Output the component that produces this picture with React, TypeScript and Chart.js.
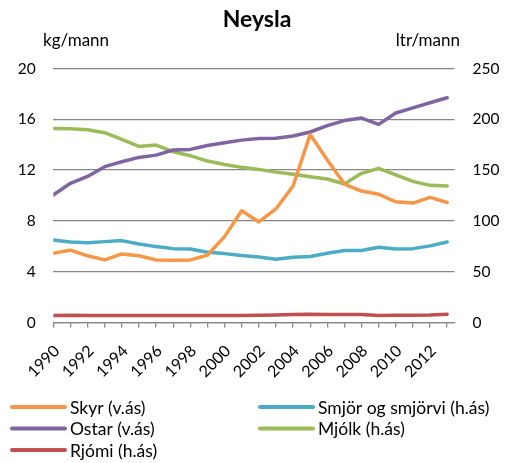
import { useEffect, useRef } from "react";
import { Chart, registerables } from "chart.js";

Chart.register(...registerables);

const years = [1990, 1991, 1992, 1993, 1994, 1995, 1996, 1997, 1998, 1999, 2000, 2001, 2002, 2003, 2004, 2005, 2006, 2007, 2008, 2009, 2010, 2011, 2012, 2013];

// left axis (kg/mann)
const skyr = [5.45, 5.7, 5.25, 4.93, 5.4, 5.25, 4.93, 4.9, 4.93, 5.3, 6.76, 8.8, 7.92, 8.94, 10.75, 14.8, 12.8, 10.9, 10.35, 10.1, 9.5, 9.4, 9.85, 9.45];
const ostar = [10.04, 10.96, 11.5, 12.27, 12.66, 13.0, 13.18, 13.58, 13.63, 13.94, 14.15, 14.36, 14.48, 14.5, 14.68, 15.0, 15.5, 15.9, 16.1, 15.6, 16.5, 16.9, 17.3, 17.7];
// right axis (ltr/mann)
const smjor = [81.3, 79.3, 78.6, 79.6, 80.6, 77.3, 74.7, 72.7, 72.4, 69.1, 67.8, 65.9, 64.4, 62.3, 64.2, 64.9, 68.2, 70.8, 70.8, 74.0, 72.4, 72.7, 75.4, 79.3];
const mjolk = [191, 190.7, 189.7, 186.8, 180.2, 173.3, 174.6, 168.1, 164.2, 158.9, 155.6, 152.7, 150.7, 148, 146, 143.5, 141.2, 136.3, 146.8, 151.7, 145.2, 138.9, 135, 134.3];
const rjomi = [7, 7.2, 7, 7, 7, 7, 7, 7, 7, 7, 7, 7, 7.2, 7.5, 7.8, 8, 7.8, 7.8, 7.8, 7, 7.2, 7.2, 7.5, 8.2];

const seriesNames = ["Skyr (v.ás)", "Smjör og smjörvi (h.ás)", "Ostar (v.ás)", "Mjólk (h.ás)", "Rjómi (h.ás)"];
const seriesColors = ["#F79646", "#4BACC6", "#8064A2", "#9BBB59", "#C0504D"];

const leftTitle = "kg/mann";
const rightTitle = "ltr/mann";
const chartTitle = "Neysla";

const FONT = "Lato";
const GRID = "#868686";

const toPts = (vals: number[]) => vals.map((v, i) => ({ x: years[i], y: v }));

const extrasPlugin = {
  id: "extras",
  afterDraw(chart: any) {
    const ctx = chart.ctx as CanvasRenderingContext2D;
    ctx.save();
    ctx.fillStyle = "#000";
    ctx.font = `17px ${FONT}`;
    ctx.textBaseline = "middle";
    ctx.textAlign = "left";
    ctx.fillText(leftTitle, 43, 41);
    ctx.textAlign = "right";
    ctx.fillText(rightTitle, 460, 41);

    // legend in two columns
    const colX = [12, 260];
    const rowY = [407, 428.5, 450];
    chart.data.datasets.forEach((ds: any, i: number) => {
      const col = i % 2;
      const row = Math.floor(i / 2);
      const x = colX[col];
      const y = rowY[row];
      ctx.strokeStyle = ds.borderColor;
      ctx.lineWidth = 4;
      ctx.lineCap = "round";
      ctx.beginPath();
      ctx.moveTo(x, y);
      ctx.lineTo(x + 53, y);
      ctx.stroke();
      ctx.fillStyle = "#000";
      ctx.textAlign = "left";
      ctx.textBaseline = "middle";
      ctx.font = `17.5px ${FONT}`;
      ctx.fillText(ds.label, x + 58, y + 1);
    });
    ctx.restore();
  },
};

export default function App() {
  const ref = useRef<HTMLCanvasElement>(null);
  useEffect(() => {
    const axisIds = ["yL", "yR", "yL", "yR", "yR"];
    const values = [skyr, smjor, ostar, mjolk, rjomi];
    const chart = new Chart(ref.current!, {
      type: "line",
      data: {
        datasets: values.map((vals, i) => ({
          label: seriesNames[i],
          data: toPts(vals),
          borderColor: seriesColors[i],
          backgroundColor: seriesColors[i],
          borderWidth: 3.5,
          pointRadius: 0,
          tension: 0,
          yAxisID: axisIds[i],
          borderCapStyle: "round",
          borderJoinStyle: "round",
        })),
      },
      options: {
        responsive: false,
        animation: false,
        devicePixelRatio: 1,
        layout: { padding: { top: 0, left: 0, right: 0, bottom: 80.5 } },
        plugins: {
          legend: { display: false },
          tooltip: { enabled: false },
          title: {
            display: true,
            text: chartTitle,
            color: "#000",
            font: { family: FONT, size: 23, weight: "bold" },
            padding: { top: 6, bottom: 34.9 },
          },
        },
        scales: {
          x: {
            type: "linear",
            min: 1990,
            max: 2013.43,
            afterBuildTicks: (s: any) => {
              s.ticks = years.map((v) => ({ value: v }));
            },
            afterFit: (s: any) => {
              s.height = 60;
            },
            ticks: {
              autoSkip: false,
              minRotation: 45,
              maxRotation: 45,
              padding: 14,
              labelOffset: 3.5,
              color: "#000",
              font: { family: FONT, size: 16 },
              callback: (v: any) => (Number(v) % 2 === 0 ? String(v) : ""),
            },
            grid: { drawOnChartArea: false, drawTicks: true, tickLength: 5, color: GRID, lineWidth: 1.3 },
            border: { color: GRID, width: 1.3 },
          },
          yL: {
            type: "linear",
            position: "left",
            min: 0,
            max: 20,
            afterFit: (s: any) => {
              s.width = 53.3;
            },
            ticks: { stepSize: 4, padding: 17.6, color: "#000", font: { family: FONT, size: 15.5 } },
            grid: { color: GRID, lineWidth: 1.3, drawTicks: false },
            border: { display: false },
          },
          yR: {
            type: "linear",
            position: "right",
            min: 0,
            max: 250,
            afterFit: (s: any) => {
              s.width = 59.5;
            },
            ticks: { stepSize: 50, padding: 18, color: "#000", font: { family: FONT, size: 15.5 } },
            grid: { drawOnChartArea: false, drawTicks: false },
            border: { display: false },
          },
        },
      },
      plugins: [extrasPlugin],
    } as any);
    return () => chart.destroy();
  }, []);
  return (
    <div style={{ position: "fixed", left: 0, top: 0, width: 514, height: 463, background: "#fff" }}>
      <canvas ref={ref} width={514} height={463} style={{ display: "block", width: 514, height: 463 }} />
    </div>
  );
}
